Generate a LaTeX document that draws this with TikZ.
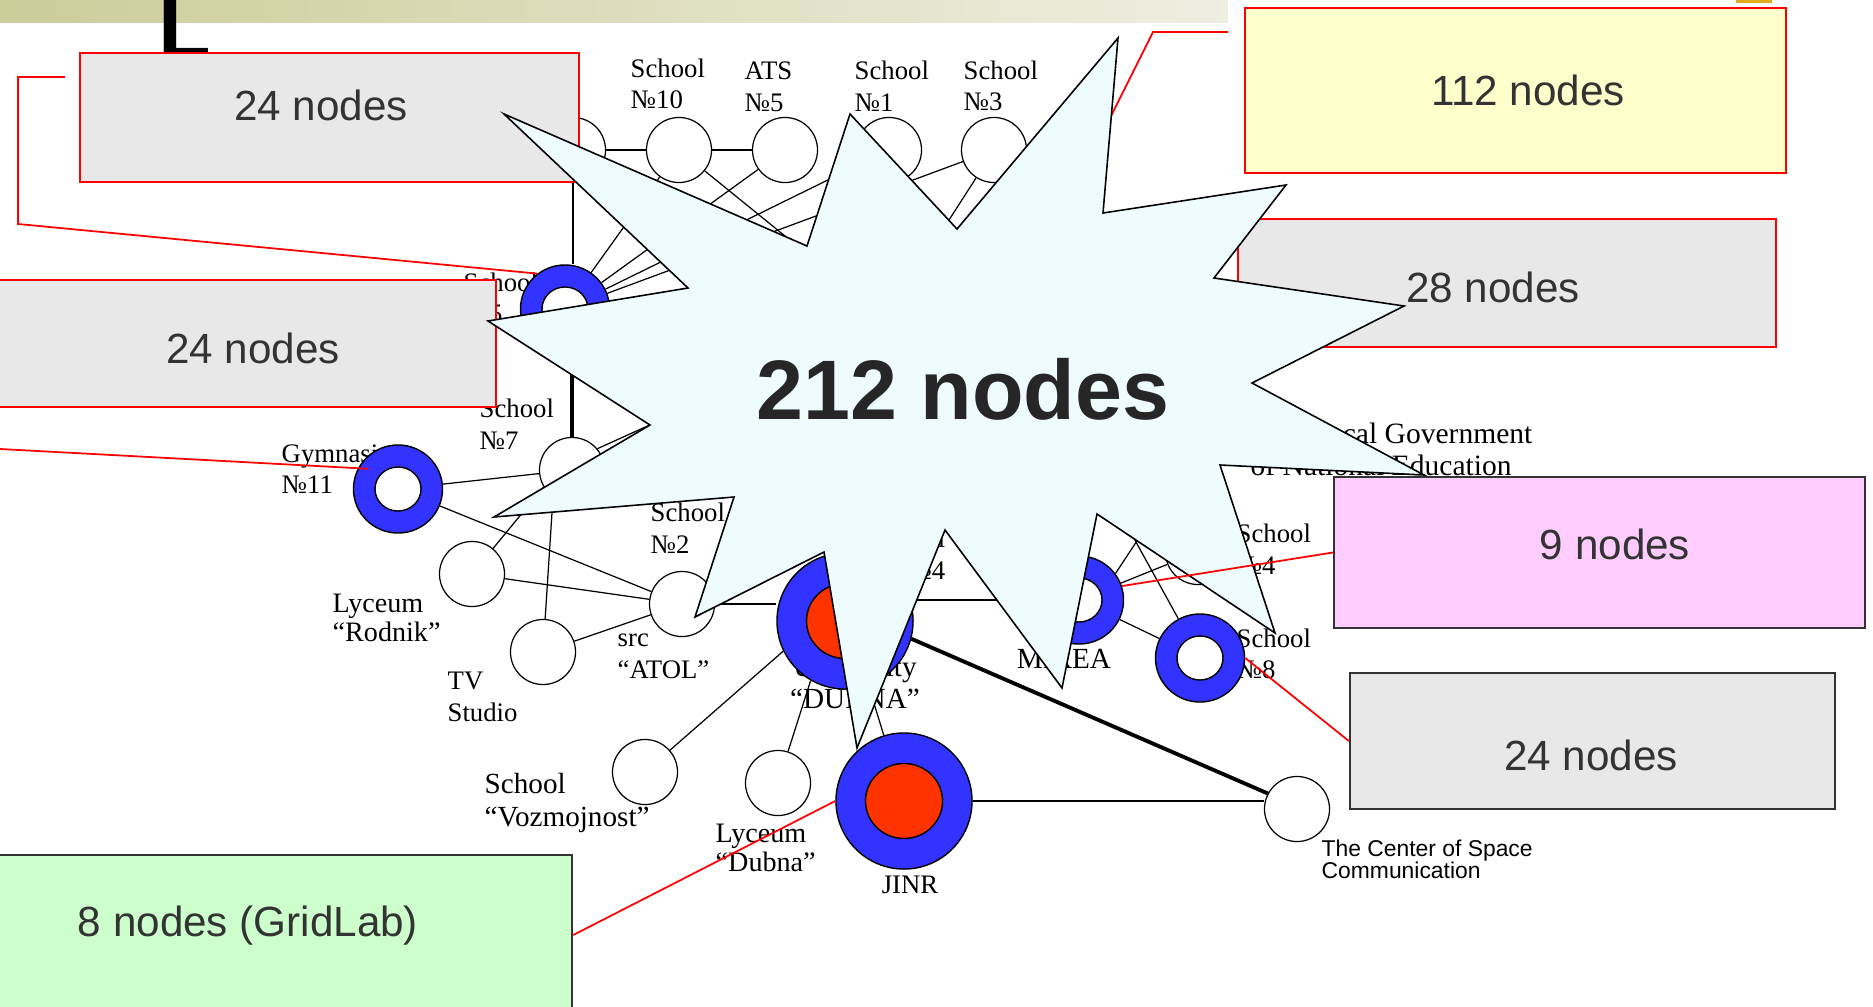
\documentclass[tikz,border=0pt]{standalone}
\usepackage{graphicx}
\usepackage{fontspec}
\setmainfont{Liberation Serif}
\setsansfont{Liberation Sans}
\usetikzlibrary{shapes.geometric}
\definecolor{ringblue}{RGB}{51,51,255}
\definecolor{corered}{RGB}{255,51,0}
\definecolor{starfill}{RGB}{238,252,255}
\definecolor{boxgray}{RGB}{232,232,232}
\definecolor{boxyellow}{RGB}{255,255,204}
\definecolor{boxpink}{RGB}{255,204,255}
\definecolor{boxgreen}{RGB}{204,255,204}
\definecolor{txtgray}{RGB}{51,51,51}
\definecolor{bigtxt}{RGB}{38,38,38}
\definecolor{barL}{RGB}{204,204,153}
\definecolor{barR}{RGB}{238,238,225}
\definecolor{goldbar}{RGB}{224,172,30}
\tikzset{
  pc/.style={circle, draw, fill=white, line width=0.35pt, inner sep=0pt, minimum size=6.5mm},
  ro/.style={ellipse, draw, fill=ringblue, line width=0.4pt, inner sep=0pt, minimum width=8.9mm, minimum height=8.8mm},
  ri/.style={ellipse, draw, fill=white, line width=0.4pt, inner sep=0pt, minimum width=4.6mm, minimum height=4.4mm},
  bo/.style={ro, minimum width=13.6mm, minimum height=13.6mm},
  bi/.style={ri, fill=corered, minimum width=7.7mm, minimum height=7.5mm},
  net/.style={line width=0.35pt},
  lbl/.style={font=\fontsize{7.6}{9}\selectfont, inner sep=0pt, align=left, anchor=west},
  lblbig/.style={lbl, font=\fontsize{8.3}{9.3}\selectfont},
  cbox/.style={rectangle, draw=red, line width=0.6pt, fill=boxgray, inner sep=0pt},
  boxtxt/.style={font=\sffamily\fontsize{12}{14}\selectfont, text=txtgray, inner sep=0pt},
  redline/.style={draw=red, line width=0.5pt}
}
\begin{document}
\begin{tikzpicture}[x=0.01cm, y=-0.01cm]
  \useasboundingbox (0,0) rectangle (1873,1006);
  \clip (0,0) rectangle (1873,1006);
  \shade[left color=barL, right color=barR] (0,0) rectangle (1228,22);
  \fill[goldbar] (1736,0) rectangle (1772,3);
  \node[font=\sffamily\bfseries\fontsize{36}{36}\selectfont, anchor=base west, inner sep=0pt] (ttl) at (158,62) {\scalebox{0.68}[1]{L}};

  \node[lbl] (l10) at (630,84) {School\\№10};
  \node[lbl] (lats) at (744,87) {ATS\\№5};
  \node[lbl] (l1) at (854,86) {School\\№1};
  \node[lbl] (l3) at (963,86) {School\\№3};
  \node[lbl] (l5) at (463,298) {School\\№5};
  \node[lbl] (l7) at (479,424) {School\\№7};
  \node[lbl] (lgym) at (281,469) {Gymnasium\\№11};
  \node[lbl, font=\fontsize{8}{8.4}\selectfont] (lrod) at (332,618) {Lyceum\\“Rodnik”};
  \node[lbl] (ltv) at (447,697) {TV\\Studio};
  \node[lbl] (latol) at (617,656) {src\\“ATOL”};
  \node[lbl] (l2) at (650,528) {School\\№2};
  \node[lblbig, align=center, anchor=center] (luni) at (855,683) {University\\“DUBNA”};
  \node[lblbig] (lvoz) at (484,803) {School\\“Vozmojnost”};
  \node[lbl, font=\fontsize{8}{8.4}\selectfont] (llyd) at (715,848) {Lyceum\\“Dubna”};
  \node[lbl, anchor=center] (ljinr) at (910,885) {JINR};
  \node[lblbig, anchor=center] (lmirea) at (1064,659) {MIREA};
  \node[lbl, anchor=east, align=right] (l4b) at (946,554) {School\\№4};
  \node[lbl] (l4) at (1236,549) {School\\№4};
  \node[lbl] (l8) at (1236,654) {School\\№8};
  \node[lbl, font=\fontsize{8.4}{9}\selectfont, anchor=east] (lgov) at (1533,433) {Local Government};
  \node[lbl, font=\fontsize{8.4}{9}\selectfont] (ledu) at (1250,465) {of National Education};
  \node[lbl, font=\sffamily\fontsize{6.5}{6.3}\selectfont] (lcsc) at (1321,859) {The Center of Space\\Communication};

  \node[pc] (n0) at (573,150) {};
  \node[pc] (s10) at (679,150) {};
  \node[pc] (ats) at (785,150) {};
  \node[pc] (s1) at (889,150) {};
  \node[pc] (s3) at (994,150) {};
  \node[ro] (s5) at (565,309) {};
  \node[ri] (s5h) at (s5) {};
  \node[pc] (s7) at (572,470) {};
  \node[ro] (gym) at (398,489) {};
  \node[ri] (gymh) at (gym) {};
  \node[pc] (rod) at (472,574) {};
  \node[pc] (tv) at (543,652) {};
  \node[pc] (atol) at (682,604) {};
  \node[bo] (uni) at (845,621) {};
  \node[bi] (unih) at (uni) {};
  \node[pc] (voz) at (645,772) {};
  \node[pc] (lyd) at (778,783) {};
  \node[bo] (jinr) at (904,801) {};
  \node[bi] (jinrh) at (jinr) {};
  \node[pc] (csc) at (1297,809) {};
  \node[ro] (mirea) at (1079,600) {};
  \node[ri] (mireah) at (mirea) {};
  \node[pc] (s4) at (1198,552) {};
  \node[ro] (s8) at (1200,658) {};
  \node[ri] (s8h) at (s8) {};
  \coordinate (hub) at (886,318);
  \coordinate (hm1) at (1189,462);
  \coordinate (hm2) at (1110,495);
  \coordinate (hc) at (1094,150);

  \draw[net] (n0) -- (s10) -- (ats);
  \draw[net] (n0) -- (n0 |- s5.north);
  \draw[net, line width=1pt] (s7) -- (s7 |- s5.south);
  \draw[net] (s5) -- (s10) (s5) -- (ats) (s5) -- (s1) (s5) -- (s3);
  \draw[net] (s10) -- (hub) (s3) -- (hub) (s7.40) -- (hub);
  \draw[net] (gym) -- (s7) (gym) -- (atol) (rod) -- (atol) (tv) -- (atol);
  \draw[net] (rod) -- (s7.211) (tv) -- (s7.235);
  \draw[net] (atol) -- (atol -| uni.west) (uni.east |- mirea) -- (mirea);
  \draw[net] (voz) -- (uni.206) (lyd) -- (uni.240) (jinr) -- (uni.290);
  \draw[net] (jinr) -- (jinr -| csc.west);
  \draw[net, line width=1.1pt] (uni.345) -- (csc.152);
  \draw[net] (mirea) -- (s8) (mirea) -- (s4) (mirea.36) -- (hm1) (s8) -- (hm2);

  \node[cbox, minimum width=4.99cm, minimum height=1.29cm] (boxA) at (329.5,117.5) {};
  \node[cbox, minimum width=5.06cm, minimum height=1.27cm] (boxB) at (243,343.5) {};
  \node[cbox, fill=boxyellow, minimum width=5.41cm, minimum height=1.65cm] (boxC) at (1515.5,90.5) {};
  \node[cbox, minimum width=5.38cm, minimum height=1.28cm] (boxD) at (1507,283) {};
  \node[cbox, draw=txtgray, fill=boxpink, minimum width=5.31cm, minimum height=1.51cm] (boxE) at (1599.5,552.5) {};
  \node[cbox, draw=txtgray, minimum width=4.85cm, minimum height=1.36cm] (boxF) at (1592.5,741) {};
  \node[cbox, draw=txtgray, fill=boxgreen, minimum width=5.82cm, minimum height=1.6cm] (boxG) at (281,935) {};
  \node[boxtxt] (tA) at (321,105) {24 nodes};
  \node[boxtxt] (tB) at (253,348) {24 nodes};
  \node[boxtxt] (tC) at (1528,90) {112 nodes};
  \node[boxtxt] (tD) at (1493,287) {28 nodes};
  \node[boxtxt] (tE) at (1615,544) {9 nodes};
  \node[boxtxt] (tF) at (1591,755) {24 nodes};
  \node[boxtxt] (tG) at (248,926) {8 nodes (GridLab)};

  \coordinate (ca) at (65,77);
  \coordinate (cb) at (0,449);
  \coordinate (cc) at (1228,32);
  \draw[redline] (ca) -- ++(-47,0) -- ++(0,147) -- (s5.128);
  \draw[redline] (cb) -- ([shift={(8,5)}]gym.146);
  \draw[redline] (cc) -- ++(-75,0) -- (hc);
  \draw[redline] (boxF.west) -- (s8.east);
  \draw[redline] (boxG.east) -- (jinr.west);

  \draw[line width=0.45pt, fill=starfill] (504,114) -- (807,246) -- (850,114) -- (957,229) -- (1118,38) -- (1103,213)
    -- (1286,185) -- (1214,278) -- (1404,306) -- (1252,383) -- (1424,475) -- (1220,465) -- (1275,633)
    -- (1097,514) -- (1062,688) -- (945,530) -- (857,748) -- (824,552) -- (695,617) -- (734,497)
    -- (494,517) -- (650,425) -- (488,321) -- (688,288) -- cycle;
  \node[font=\sffamily\bfseries\fontsize{24}{28}\selectfont, text=bigtxt, inner sep=0pt] (big) at (963,389) {212 nodes};
  \draw[redline] (boxE.west) -- (mirea.18);
\end{tikzpicture}
\end{document}
